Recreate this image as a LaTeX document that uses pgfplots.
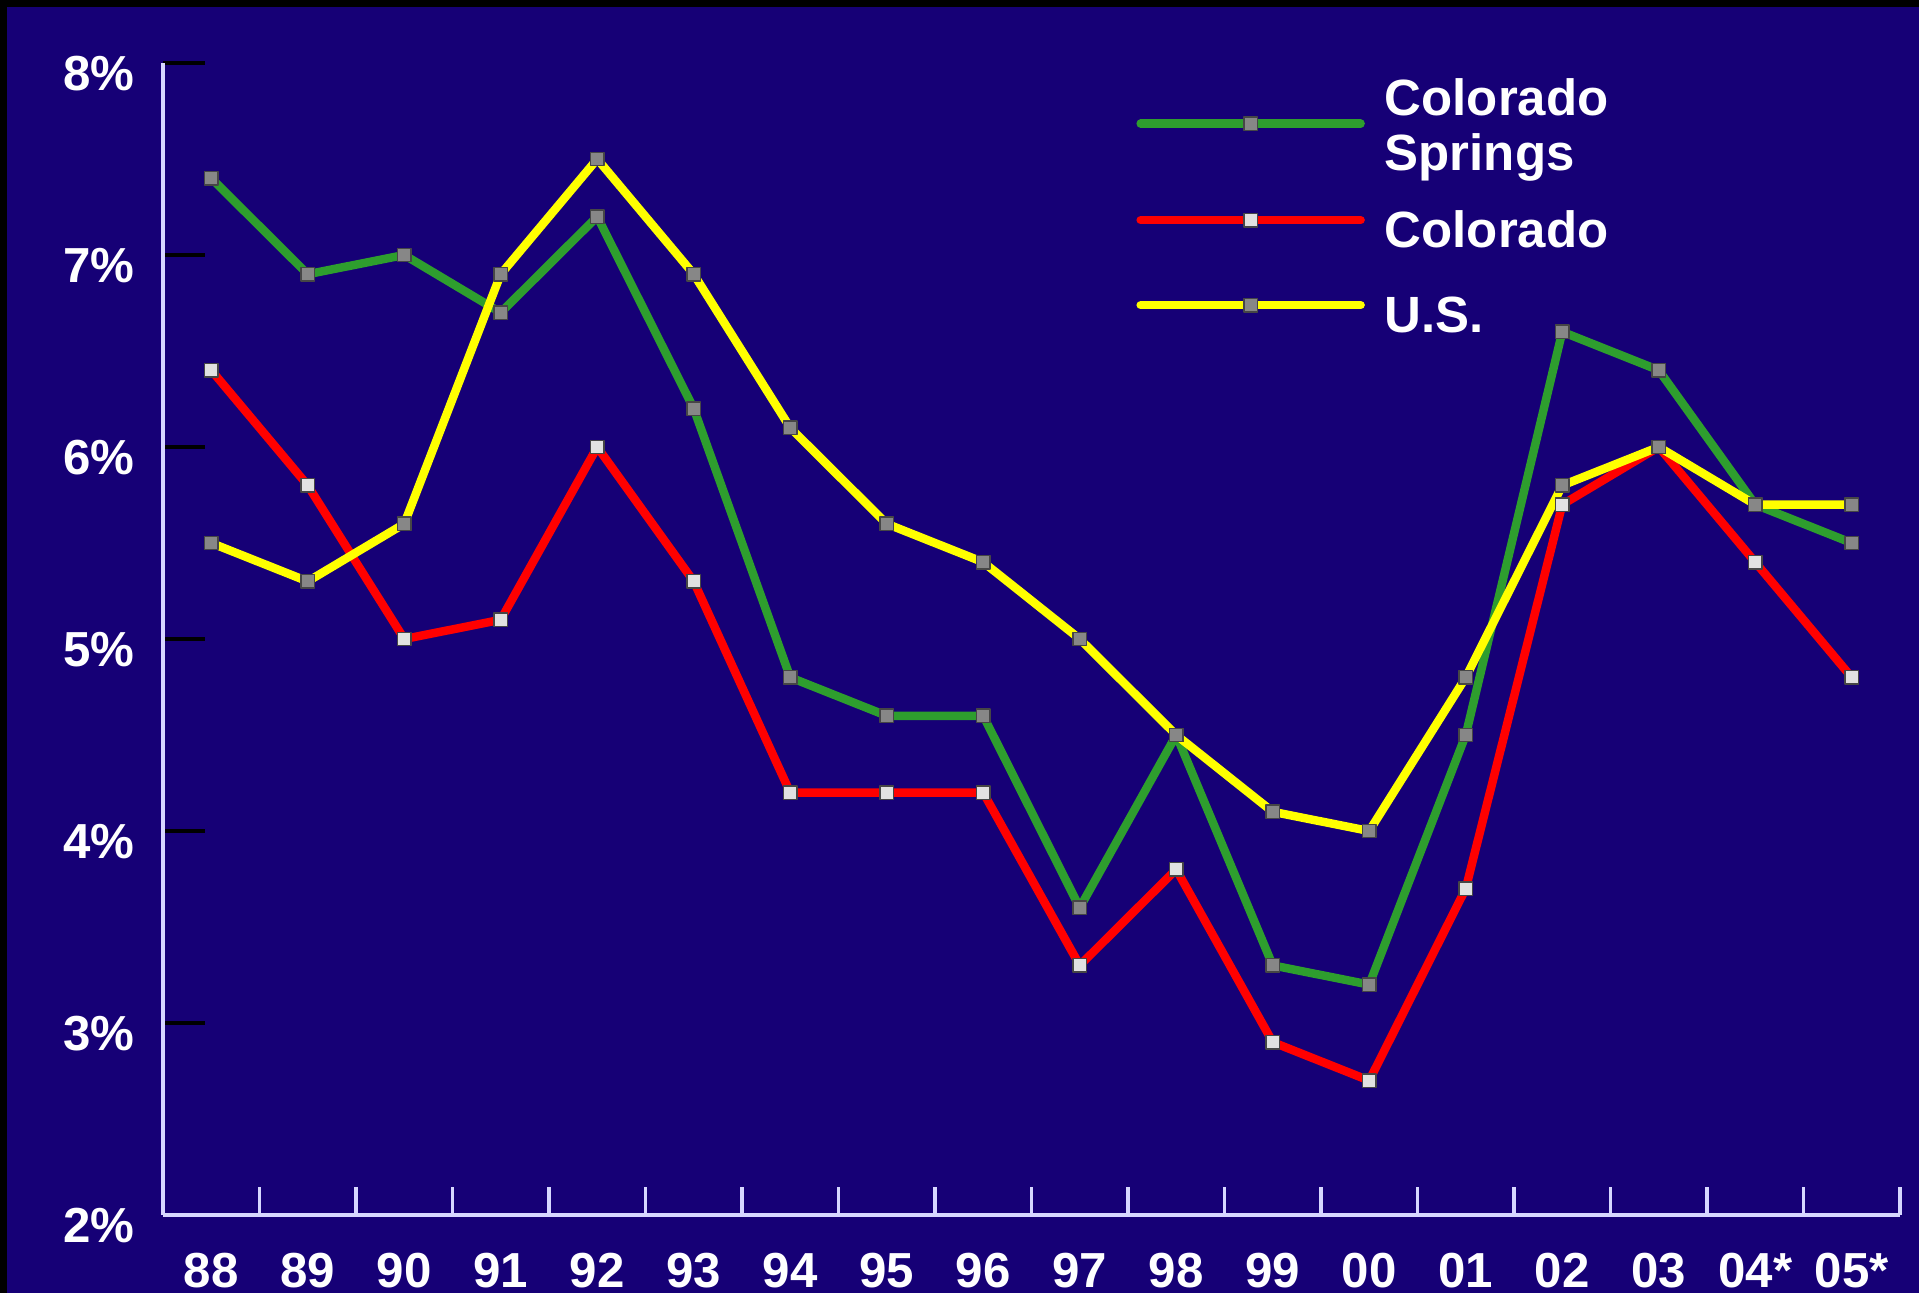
\documentclass[border=0pt]{standalone}
\usepackage{pgfplots}
\pgfplotsset{compat=1.18}
\usepackage{fontspec}
\setmainfont{Liberation Sans}

\definecolor{navy}{RGB}{22,0,118}
\definecolor{axiscol}{RGB}{215,215,255}
\definecolor{csgreen}{RGB}{46,158,46}
\definecolor{cored}{RGB}{255,0,0}
\definecolor{usyellow}{RGB}{255,255,0}
\definecolor{mkgray}{RGB}{135,135,135}
\definecolor{mklight}{RGB}{225,225,225}
\definecolor{mkedge}{RGB}{70,70,70}

\begin{document}
\begin{tikzpicture}
\fill[black] (0,0) rectangle (191.9mm,129.3mm);
\fill[navy] (0.7mm,0) rectangle (191.9mm,128.6mm);
\useasboundingbox (0,0) rectangle (191.9mm,129.3mm);
\begin{axis}[
    at={(16.3mm,7.8mm)}, anchor=south west,
    scale only axis,
    width=173.7mm, height=115.2mm,
    xmin=-0.5, xmax=17.5,
    ymin=2, ymax=8,
    clip=false,
    axis lines*=left,
    axis line style={axiscol, line width=0.9pt},
    tick align=inside,
    xtick={0,...,17},
    xticklabels={88,89,90,91,92,93,94,95,96,97,98,99,00,01,02,03,04*,05*},
    minor xtick={-0.5,0.5,...,17.5},
    every major x tick/.append style={draw=none},
    every minor x tick/.append style={axiscol, line width=0.9pt},
    minor tick length=2.8mm,
    major tick length=4.2mm,
    ytick={2,3,4,5,6,7,8},
    yticklabels={2\%,3\%,4\%,5\%,6\%,7\%,8\%},
    ytick style={black, line width=0.9pt},
    tick label style={text=white, font=\fontsize{14}{16}\selectfont\bfseries},
    xticklabel style={anchor=center, yshift=-5.6mm},
    yticklabel style={anchor=east, xshift=-1.6mm, yshift=-1.1mm},
    every axis plot/.append style={line width=2.4pt, line cap=round, line join=round,
        mark=square*, mark size=1.9pt},
    legend image code/.code={\draw[mark repeat=2,mark phase=2,#1]
        plot coordinates {(0mm,0mm) (11mm,0mm) (22mm,0mm)};},
    legend style={at={(0.560,0.968)}, anchor=north west, draw=none, fill=none,
        inner sep=0pt, row sep=3.27mm, column sep=1.5mm,
        nodes={inner sep=0.5mm, anchor=west, text=white,
            font=\fontsize{14.5}{15.5}\selectfont\bfseries}},
]
\addplot[csgreen, mark options={fill=mkgray, draw=mkedge, line width=0.4pt},
    legend image post style={yshift=0.73mm}] coordinates {
    (0,7.4) (1,6.9) (2,7.0) (3,6.7) (4,7.2) (5,6.2) (6,4.8) (7,4.6) (8,4.6)
    (9,3.6) (10,4.5) (11,3.3) (12,3.2) (13,4.5) (14,6.6) (15,6.4) (16,5.7) (17,5.5)
};
\addlegendentry{\raisebox{0.64mm}[4.55mm][6.05mm]{\begin{tabular}[c]{@{}l@{}}Colorado\\Springs\end{tabular}}}
\addplot[cored, mark options={fill=mklight, draw=mkedge, line width=0.4pt}] coordinates {
    (0,6.4) (1,5.8) (2,5.0) (3,5.1) (4,6.0) (5,5.3) (6,4.2) (7,4.2) (8,4.2)
    (9,3.3) (10,3.8) (11,2.9) (12,2.7) (13,3.7) (14,5.7) (15,6.0) (16,5.4) (17,4.8)
};
\addlegendentry{\raisebox{-1.1mm}[3.7mm][0mm]{Colorado}}
\addplot[usyellow, mark options={fill=mkgray, draw=mkedge, line width=0.4pt}] coordinates {
    (0,5.5) (1,5.3) (2,5.6) (3,6.9) (4,7.5) (5,6.9) (6,6.1) (7,5.6) (8,5.4)
    (9,5.0) (10,4.5) (11,4.1) (12,4.0) (13,4.8) (14,5.8) (15,6.0) (16,5.7) (17,5.7)
};
\addlegendentry{\raisebox{-1.1mm}[3.7mm][0mm]{U.S.}}
\end{axis}
\end{tikzpicture}
\end{document}
